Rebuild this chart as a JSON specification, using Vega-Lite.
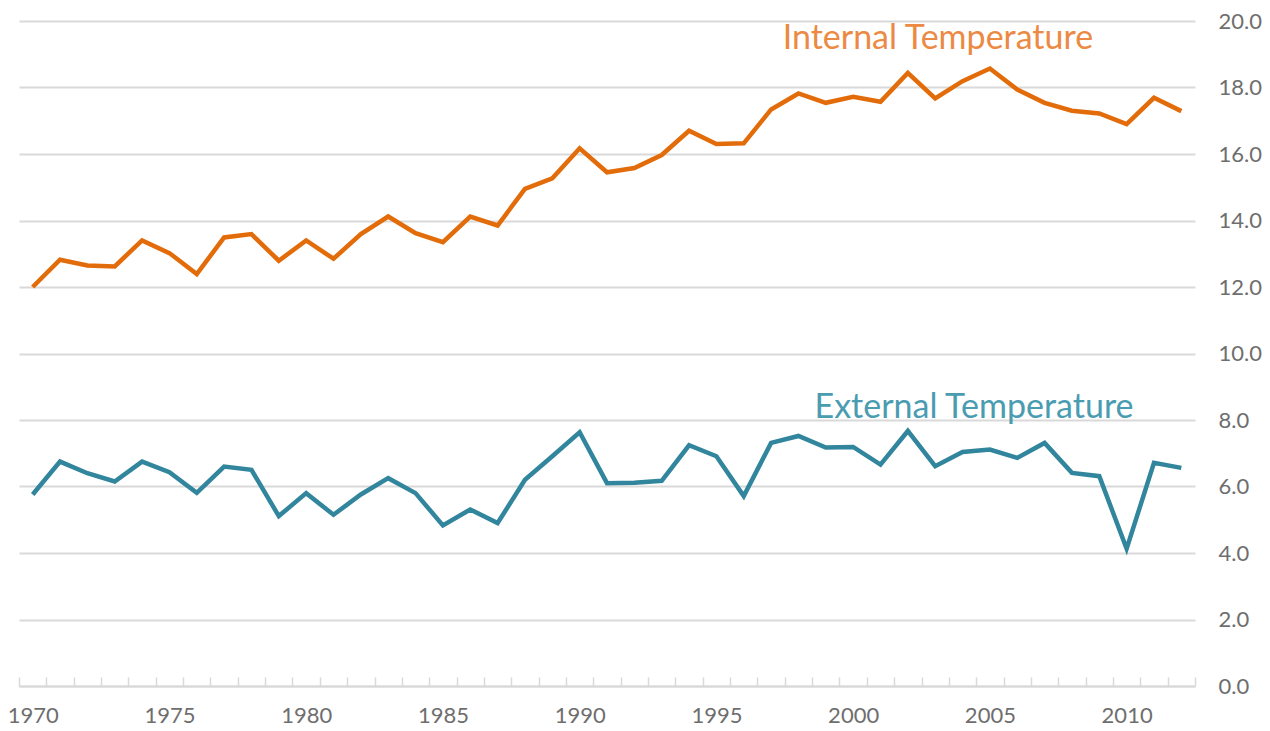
{
  "$schema": "https://vega.github.io/schema/vega-lite/v6.json",
  "width": 1176,
  "height": 665,
  "autosize": "none",
  "padding": {"left": 19, "top": 21, "right": 75, "bottom": 45},
  "background": "white",
  "config": {"view": {"stroke": null}, "font": "Lato", "axis": {"labelOverlap": false}},
  "datasets": {
    "temps": [
      {"year": 1970, "Internal Temperature": 12.0, "External Temperature": 5.76},
      {"year": 1971, "Internal Temperature": 12.82, "External Temperature": 6.75},
      {"year": 1972, "Internal Temperature": 12.65, "External Temperature": 6.4},
      {"year": 1973, "Internal Temperature": 12.62, "External Temperature": 6.15},
      {"year": 1974, "Internal Temperature": 13.4, "External Temperature": 6.75},
      {"year": 1975, "Internal Temperature": 13.02, "External Temperature": 6.43},
      {"year": 1976, "Internal Temperature": 12.39, "External Temperature": 5.81},
      {"year": 1977, "Internal Temperature": 13.49, "External Temperature": 6.6},
      {"year": 1978, "Internal Temperature": 13.59, "External Temperature": 6.5},
      {"year": 1979, "Internal Temperature": 12.79, "External Temperature": 5.11},
      {"year": 1980, "Internal Temperature": 13.4, "External Temperature": 5.8},
      {"year": 1981, "Internal Temperature": 12.85, "External Temperature": 5.15},
      {"year": 1982, "Internal Temperature": 13.59, "External Temperature": 5.76},
      {"year": 1983, "Internal Temperature": 14.12, "External Temperature": 6.25},
      {"year": 1984, "Internal Temperature": 13.62, "External Temperature": 5.8},
      {"year": 1985, "Internal Temperature": 13.35, "External Temperature": 4.83},
      {"year": 1986, "Internal Temperature": 14.12, "External Temperature": 5.31},
      {"year": 1987, "Internal Temperature": 13.85, "External Temperature": 4.9},
      {"year": 1988, "Internal Temperature": 14.95, "External Temperature": 6.2},
      {"year": 1989, "Internal Temperature": 15.27, "External Temperature": 6.91},
      {"year": 1990, "Internal Temperature": 16.17, "External Temperature": 7.63},
      {"year": 1991, "Internal Temperature": 15.45, "External Temperature": 6.1},
      {"year": 1992, "Internal Temperature": 15.58, "External Temperature": 6.11},
      {"year": 1993, "Internal Temperature": 15.97, "External Temperature": 6.17},
      {"year": 1994, "Internal Temperature": 16.7, "External Temperature": 7.24},
      {"year": 1995, "Internal Temperature": 16.3, "External Temperature": 6.91},
      {"year": 1996, "Internal Temperature": 16.32, "External Temperature": 5.71},
      {"year": 1997, "Internal Temperature": 17.34, "External Temperature": 7.31},
      {"year": 1998, "Internal Temperature": 17.82, "External Temperature": 7.52},
      {"year": 1999, "Internal Temperature": 17.54, "External Temperature": 7.17},
      {"year": 2000, "Internal Temperature": 17.72, "External Temperature": 7.19},
      {"year": 2001, "Internal Temperature": 17.57, "External Temperature": 6.66},
      {"year": 2002, "Internal Temperature": 18.44, "External Temperature": 7.67},
      {"year": 2003, "Internal Temperature": 17.67, "External Temperature": 6.61},
      {"year": 2004, "Internal Temperature": 18.19, "External Temperature": 7.04},
      {"year": 2005, "Internal Temperature": 18.57, "External Temperature": 7.11},
      {"year": 2006, "Internal Temperature": 17.94, "External Temperature": 6.86},
      {"year": 2007, "Internal Temperature": 17.54, "External Temperature": 7.31},
      {"year": 2008, "Internal Temperature": 17.3, "External Temperature": 6.41},
      {"year": 2009, "Internal Temperature": 17.22, "External Temperature": 6.31},
      {"year": 2010, "Internal Temperature": 16.9, "External Temperature": 4.13},
      {"year": 2011, "Internal Temperature": 17.69, "External Temperature": 6.71},
      {"year": 2012, "Internal Temperature": 17.29, "External Temperature": 6.56}
    ],
    "labels": [
      {"series": "Internal Temperature", "year": 2003.1, "value": 19.17},
      {"series": "External Temperature", "year": 2004.42, "value": 8.05}
    ]
  },
  "resolve": {"axis": {"x": "independent"}, "scale": {"color": "independent"}},
  "layer": [
    {
      "data": {"name": "temps"},
      "transform": [
        {"fold": ["Internal Temperature", "External Temperature"], "as": ["series", "value"]}
      ],
      "mark": {"type": "line", "strokeWidth": 4.5, "strokeJoin": "miter"},
      "encoding": {
        "x": {
          "field": "year",
          "type": "quantitative",
          "scale": {"domain": [1969.5, 2012.5], "nice": false, "zero": false},
          "axis": {
            "orient": "bottom",
            "title": null,
            "grid": false,
            "ticks": false,
            "values": [1970, 1975, 1980, 1985, 1990, 1995, 2000, 2005, 2010],
            "format": "d",
            "labelFlush": false,
            "labelPadding": 19,
            "labelFontSize": 22,
            "labelColor": "#6e6e6e",
            "domainColor": "#d9d9d9",
            "domainWidth": 2
          }
        },
        "y": {
          "field": "value",
          "type": "quantitative",
          "scale": {"domain": [0, 20], "nice": false},
          "axis": {
            "orient": "right",
            "title": null,
            "values": [0, 2, 4, 6, 8, 10, 12, 14, 16, 18, 20],
            "format": ".1f",
            "domain": false,
            "ticks": false,
            "gridColor": "#d9d9d9",
            "gridWidth": 2,
            "labelAlign": "left",
            "labelPadding": 23,
            "labelFontSize": 22,
            "labelColor": "#6e6e6e"
          }
        },
        "color": {
          "field": "series",
          "type": "nominal",
          "scale": {"domain": ["Internal Temperature", "External Temperature"], "range": ["#e36c0a", "#31859c"]},
          "legend": null
        }
      }
    },
    {
      "data": {"name": "labels"},
      "mark": {"type": "text", "fontSize": 34, "align": "center", "baseline": "alphabetic"},
      "encoding": {
        "x": {
          "field": "year",
          "type": "quantitative",
          "axis": {
            "orient": "bottom",
            "title": null,
            "grid": false,
            "labels": false,
            "domain": false,
            "values": [1969.5, 1970.5, 1971.5, 1972.5, 1973.5, 1974.5, 1975.5, 1976.5, 1977.5, 1978.5, 1979.5, 1980.5, 1981.5, 1982.5, 1983.5, 1984.5, 1985.5, 1986.5, 1987.5, 1988.5, 1989.5, 1990.5, 1991.5, 1992.5, 1993.5, 1994.5, 1995.5, 1996.5, 1997.5, 1998.5, 1999.5, 2000.5, 2001.5, 2002.5, 2003.5, 2004.5, 2005.5, 2006.5, 2007.5, 2008.5, 2009.5, 2010.5, 2011.5, 2012.5],
            "tickCount": 100,
            "tickColor": "#d9d9d9",
            "tickWidth": 1.5,
            "tickSize": -9
          }
        },
        "y": {"field": "value", "type": "quantitative"},
        "text": {"field": "series"},
        "color": {
          "field": "series",
          "type": "nominal",
          "scale": {"domain": ["Internal Temperature", "External Temperature"], "range": ["#ec8a44", "#4a9cb1"]},
          "legend": null
        }
      }
    }
  ]
}
